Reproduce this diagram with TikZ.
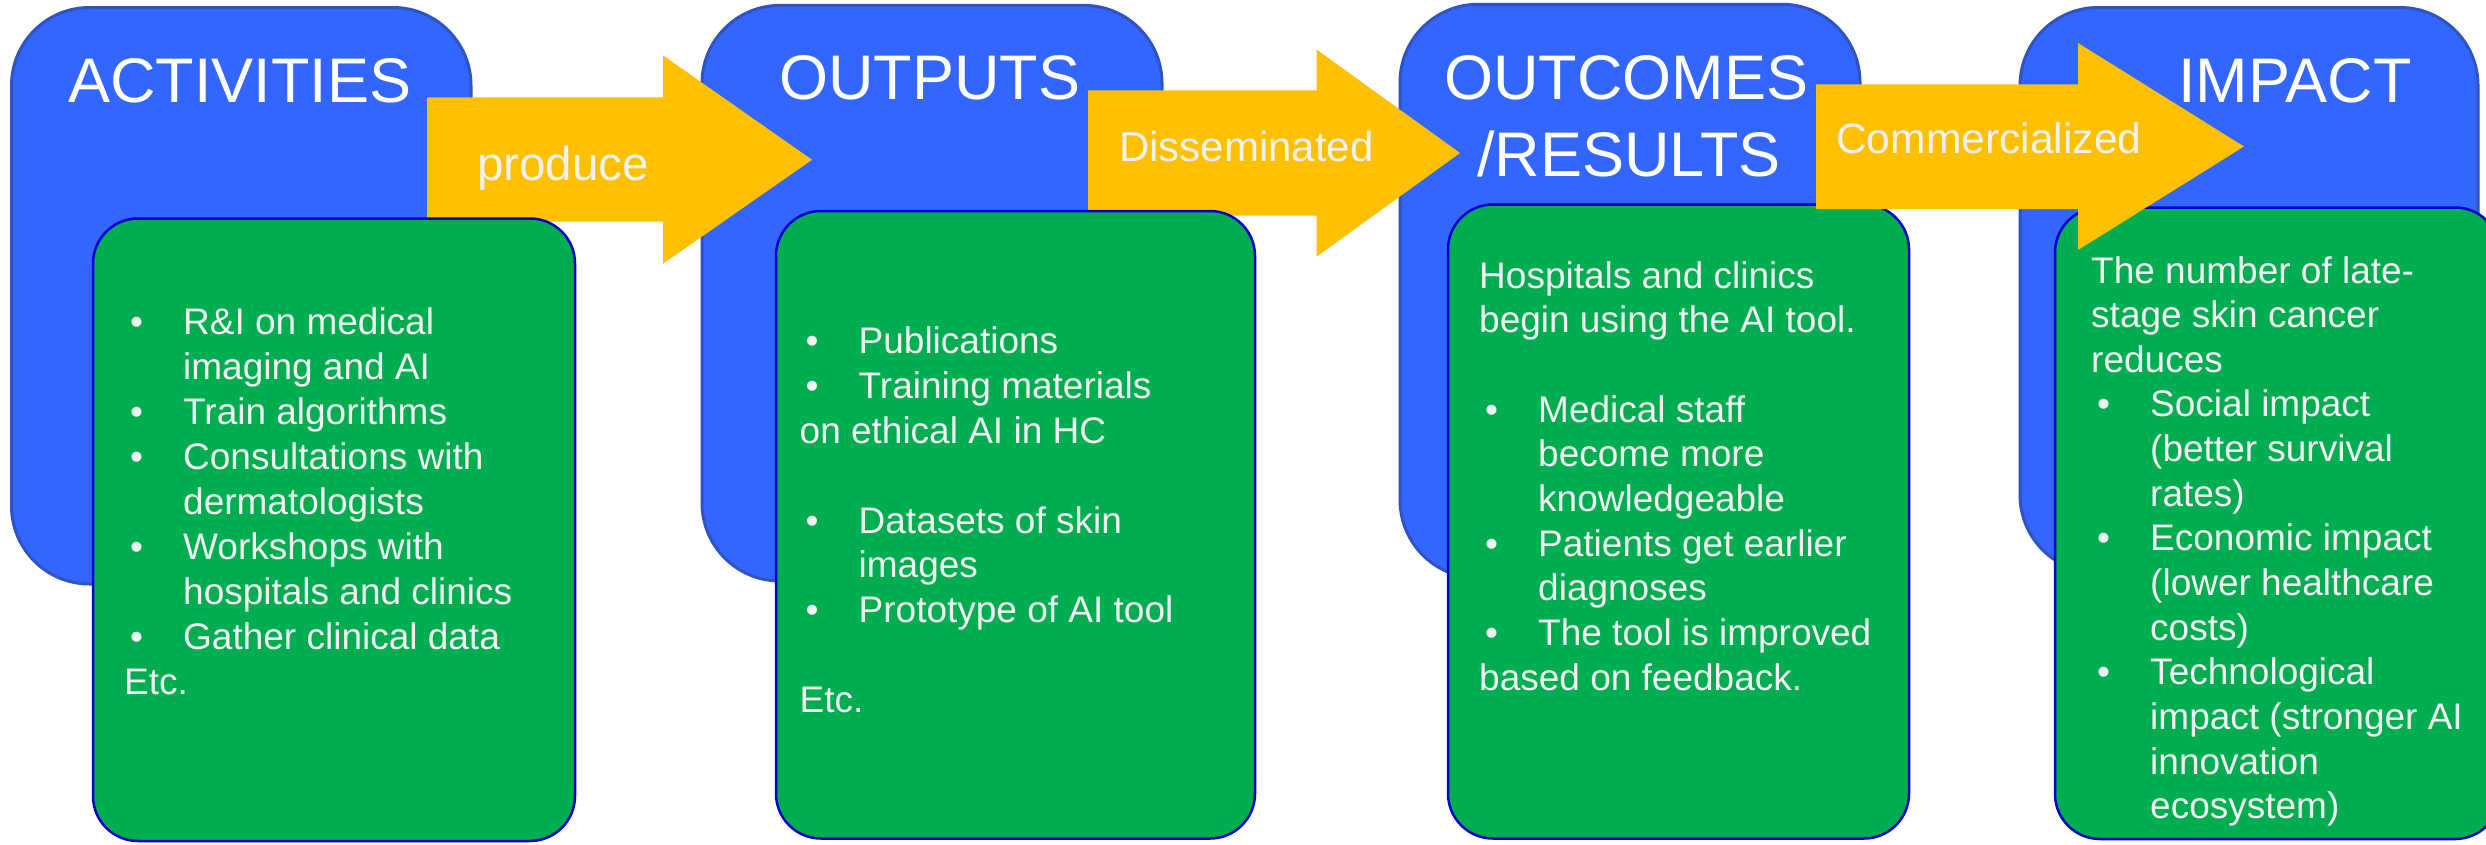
\documentclass[tikz,border=0pt]{standalone}
\usepackage{fontspec}
\setmainfont{Liberation Sans}
\definecolor{blueFill}{RGB}{51,102,255}
\definecolor{blueEdge}{RGB}{47,82,196}
\definecolor{greenFill}{RGB}{0,173,80}
\definecolor{greenEdge}{RGB}{0,0,204}
\definecolor{arrowYellow}{RGB}{255,192,0}
\definecolor{softWhite}{RGB}{242,242,242}
\newcommand{\Lbul}[1]{\hbox{\hbox to 59pt{\hspace*{6pt}•\hfil}#1}}
\newcommand{\Lcont}[1]{\hbox{\hspace*{59pt}#1}}
\newcommand{\Ltxt}[1]{\hbox{#1}}
\newcommand{\Lgap}{\hbox{}}
\tikzset{
  bluebox/.style={draw=blueEdge, line width=3pt, fill=blueFill, rounded corners=78pt, inner sep=0pt},
  greenbox/.style={draw=greenEdge, line width=2.5pt, fill=greenFill, rounded corners=45pt, inner sep=0pt},
  blockarrow/.style={fill=arrowYellow, draw=none},
  titletext/.style={anchor=base west, inner sep=0pt, text=white, font=\fontsize{63}{77}\selectfont},
  arrowtext/.style={anchor=base west, inner sep=0pt, text=softWhite},
  bodytext/.style={anchor=base west, inner sep=0pt, text=softWhite, font=\fontsize{37}{44.8}\selectfont},
}
\begin{document}
\begin{tikzpicture}[x=1pt,y=-1pt]
\useasboundingbox (0,0) rectangle (2486,844);
\fill[white] (0,0) rectangle (2486,844);
% blue boxes
\node[bluebox, minimum width=459.5pt, minimum height=576.5pt] (b1) at (241.25,295.75) {};
\node[bluebox, minimum width=460pt, minimum height=575.6pt] (b2) at (932,293.2) {};
\node[bluebox, minimum width=460pt, minimum height=573.7pt] (b3) at (1630,291.15) {};
\node[bluebox, minimum width=458pt, minimum height=565.5pt] (b4) at (2249,290.25) {};
% arrows 1 and 2
\fill[blockarrow] (427,97.4) -- (663,97.4) -- (663,55.4) -- (812,159.8) -- (663,263.7) -- (663,221.7) -- (427,221.7) -- cycle;
\fill[blockarrow] (1088,90.4) -- (1316.5,90.4) -- (1316.5,49.5) -- (1460,153) -- (1316.5,256.7) -- (1316.5,215.5) -- (1088,215.5) -- cycle;
% green boxes
\node[greenbox, minimum width=482pt, minimum height=622.5pt] (g1) at (334,529.75) {};
\node[greenbox, minimum width=479pt, minimum height=627.5pt] (g2) at (1015.5,524.75) {};
\node[greenbox, minimum width=461pt, minimum height=634pt] (g3) at (1678.5,521.5) {};
\node[greenbox, minimum width=445pt, minimum height=631.5pt] (g4) at (2277.5,523.25) {};
% arrow 3
\fill[blockarrow] (1816,84.3) -- (2078,84.3) -- (2078,43) -- (2244,146.5) -- (2078,250) -- (2078,209) -- (1816,209) -- cycle;
% titles
\node[titletext] (t1) at (68,102.3) {ACTIVITIES};
\node[titletext] (t2) at (779,99.6) {OUTPUTS};
\node[titletext] (t3) at (1444,99.6) {\vtop{\baselineskip=77pt \Ltxt{OUTCOMES}\Ltxt{\hspace*{33pt}/RESULTS}}};
\node[titletext] (t4) at (2178,102) {IMPACT};
% arrow labels
\node[arrowtext, font=\fontsize{47.5}{57}\selectfont] (a1) at (477,180) {produce};
\node[arrowtext, font=\fontsize{42}{50}\selectfont] (a2) at (1119,161.5) {Disseminated};
\node[arrowtext, font=\fontsize{42.6}{51}\selectfont] (a3) at (1836,153.3) {Commercialized};
% body texts
\node[bodytext] (x1) at (124,334.8) {\vtop{\baselineskip=44.9pt
  \Lbul{R\&I on medical}
  \Lcont{imaging and AI}
  \Lbul{Train algorithms}
  \Lbul{Consultations with}
  \Lcont{dermatologists}
  \Lbul{Workshops with}
  \Lcont{hospitals and clinics}
  \Lbul{Gather clinical data}
  \Ltxt{Etc.}}};
\node[bodytext] (x2) at (799.5,353.6) {\vtop{\baselineskip=44.85pt
  \Lbul{Publications}
  \Lbul{Training materials}
  \Ltxt{on ethical AI in HC}
  \Lgap
  \Lbul{Datasets of skin}
  \Lcont{images}
  \Lbul{Prototype of AI tool}
  \Lgap
  \Ltxt{Etc.}}};
\node[bodytext] (x3) at (1479,288) {\vtop{\baselineskip=44.7pt
  \Ltxt{Hospitals and clinics}
  \Ltxt{begin using the AI tool.}
  \Lgap
  \Lbul{Medical staff}
  \Lcont{become more}
  \Lcont{knowledgeable}
  \Lbul{Patients get earlier}
  \Lcont{diagnoses}
  \Lbul{The tool is improved}
  \Ltxt{based on feedback.}}};
\node[bodytext] (x4) at (2091,283) {\vtop{\baselineskip=44.65pt
  \Ltxt{The number of late-}
  \Ltxt{stage skin cancer}
  \Ltxt{reduces}
  \Lbul{Social impact}
  \Lcont{(better survival}
  \Lcont{rates)}
  \Lbul{Economic impact}
  \Lcont{(lower healthcare}
  \Lcont{costs)}
  \Lbul{Technological}
  \Lcont{impact (stronger AI}
  \Lcont{innovation}
  \Lcont{ecosystem)}}};
\end{tikzpicture}
\end{document}
